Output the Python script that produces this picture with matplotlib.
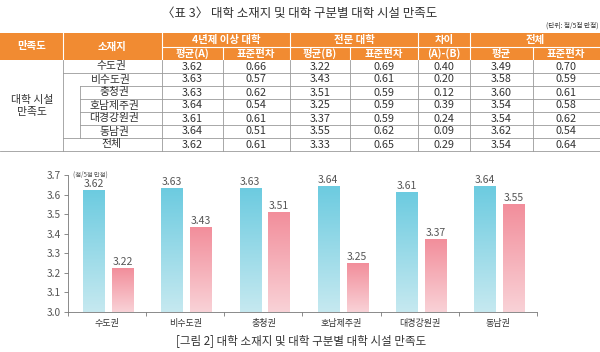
#!/usr/bin/env python3

"""Table 3 and figure 2: campus facility satisfaction by region and college type."""

import matplotlib
matplotlib.use("Agg")
import matplotlib.pyplot as plt
import numpy as np
from matplotlib.colors import LinearSegmentedColormap

plt.rcParams["font.family"] = ["Noto Sans CJK KR", "DejaVu Sans"]

# data
regions = ["수도권", "비수도권", "충청권", "호남제주권", "대경강원권", "동남권", "전체"]
univ_mean = [3.62, 3.63, 3.63, 3.64, 3.61, 3.64, 3.62]
univ_sd = [0.66, 0.57, 0.62, 0.54, 0.61, 0.51, 0.61]
coll_mean = [3.22, 3.43, 3.51, 3.25, 3.37, 3.55, 3.33]
coll_sd = [0.69, 0.61, 0.59, 0.59, 0.59, 0.62, 0.65]
diff = [0.40, 0.20, 0.12, 0.39, 0.24, 0.09, 0.29]
total_mean = [3.49, 3.58, 3.60, 3.54, 3.54, 3.62, 3.54]
total_sd = [0.70, 0.59, 0.61, 0.58, 0.62, 0.54, 0.64]

chart_regions = regions[:6]
chart_a = univ_mean[:6]
chart_b = coll_mean[:6]
yticks = [3.0, 3.1, 3.2, 3.3, 3.4, 3.5, 3.6, 3.7]

orange = "#F18B32"
text_c = "#333333"
grid_c = "#9a9a9a"

fig = plt.figure(figsize=(6.0, 3.52), dpi=100)

# --- table drawn in pixel coordinates ---
tab = fig.add_axes([0, 0, 1, 1])
tab.set_xlim(0, 600)
tab.set_ylim(352, 0)
tab.axis("off")

tab.text(300, 13, "〈표 3〉 대학 소재지 및 대학 구분별 대학 시설 만족도",
         ha="center", va="center", fontsize=9, color=text_c)
tab.text(598, 26, "(단위: 점/5점 만점)", ha="right", va="center",
         fontsize=4.8, color=text_c)

# header
top, mid, hbot = 33, 47, 60
tab.add_patch(plt.Rectangle((0, top), 600, hbot - top, color=orange, lw=0))
for x in [63, 162, 290, 418, 470]:
    tab.plot([x, x], [top, hbot], color="white", lw=0.8)
for x in [223, 350, 533]:
    tab.plot([x, x], [mid, hbot], color="white", lw=0.8)
tab.plot([162, 600], [mid, mid], color="white", lw=0.8)

hdr = dict(ha="center", va="center", fontsize=7.5, color="white", fontweight="bold")
tab.text(32, 46.5, "만족도", **hdr)
tab.text(112, 46.5, "소재지", **hdr)
tab.text(226, 40, "4년제 이상 대학", **hdr)
tab.text(354, 40, "전문 대학", **hdr)
tab.text(444, 40, "차이", **hdr)
tab.text(535, 40, "전체", **hdr)
sub_heads = ["평균(A)", "표준편차", "평균(B)", "표준편차", "(A)-(B)", "평균", "표준편차"]
col_cx = [192, 256, 320, 384, 444, 501, 566]
for cx, s in zip(col_cx, sub_heads):
    tab.text(cx, 53.5, s, **hdr)

# body
row_h = 13
rows_y = [hbot + i * row_h for i in range(len(regions) + 1)]
for i, y in enumerate(rows_y[1:]):
    if i == len(regions) - 1:
        x0 = 0
    elif 1 <= i <= 4:
        x0 = 80
    else:
        x0 = 63
    tab.plot([x0, 600], [y, y], color=grid_c, lw=0.6)
for x in [63, 162, 223, 290, 350, 418, 470, 533]:
    tab.plot([x, x], [hbot, rows_y[-1]], color=grid_c, lw=0.6)
tab.plot([80, 80], [rows_y[2], rows_y[6]], color=grid_c, lw=0.6)

body = dict(ha="center", va="center", fontsize=7.8, color=text_c)
tab.text(32, 106, "대학 시설\n만족도", linespacing=1.2, **body)
columns = [univ_mean, univ_sd, coll_mean, coll_sd, diff, total_mean, total_sd]
for i, name in enumerate(regions):
    cy = rows_y[i] + row_h / 2
    lx = 114 if 2 <= i <= 5 else 111
    tab.text(lx, cy, name, **body)
    for cx, col in zip(col_cx, columns):
        tab.text(cx, cy, f"{col[i]:.2f}", **body)

tab.text(301, 341, "[그림 2] 대학 소재지 및 대학 구분별 대학 시설 만족도",
         ha="center", va="center", fontsize=8.3, color=text_c)

# --- bar chart ---
ax = fig.add_axes([68 / 600, 1 - 312 / 352, (537 - 68) / 600, (312 - 175) / 352])
x = np.arange(len(chart_regions))
w = 0.27
bars_a = ax.bar(x - 0.17, np.array(chart_a) - 3.0, w, bottom=3.0, color="none", lw=0)
bars_b = ax.bar(x + 0.20, np.array(chart_b) - 3.0, w, bottom=3.0, color="none", lw=0)

cmap_a = LinearSegmentedColormap.from_list("a", ["#C6E9F0", "#6CCBE0"])
cmap_b = LinearSegmentedColormap.from_list("b", ["#F9D2D7", "#F28E9B"])
grad = np.linspace(0, 1, 256).reshape(-1, 1)
for bars, cmap, vals in [(bars_a, cmap_a, chart_a), (bars_b, cmap_b, chart_b)]:
    for bar, v in zip(bars, vals):
        x0 = bar.get_x()
        ax.imshow(grad, cmap=cmap, origin="lower", aspect="auto",
                  extent=[x0, x0 + bar.get_width(), 3.0, v], zorder=2)
        ax.text(x0 + bar.get_width() / 2, v + 0.008, f"{v:.2f}", ha="center",
                va="bottom", fontsize=7.5, color="#555555")

ax.set_xlim(-0.5, len(chart_regions) - 0.5)
ax.set_ylim(3.0, 3.7)
ax.set_yticks(yticks)
ax.set_yticklabels([f"{t:.1f}" for t in yticks])
ax.set_xticks(x)
ax.set_xticklabels(chart_regions)
ax.set_xticks(np.arange(len(chart_regions) + 1) - 0.5, minor=True)
ax.tick_params(axis="x", which="major", length=0, labelsize=6.5, colors=text_c, pad=5)
ax.tick_params(axis="x", which="minor", length=3, color="#777777", width=0.6)
ax.tick_params(axis="y", length=3, width=0.6, color="#777777", labelsize=7.3,
               labelcolor="#555555", pad=2)
for s in ["top", "right"]:
    ax.spines[s].set_visible(False)
for s in ["left", "bottom"]:
    ax.spines[s].set_color("#777777")
    ax.spines[s].set_linewidth(0.6)
ax.text(0.01, 1.0, "(점/5점 만점)", transform=ax.transAxes, ha="left",
        va="center", fontsize=4.5, color="#555555")

plt.savefig("out.png", dpi=100)
